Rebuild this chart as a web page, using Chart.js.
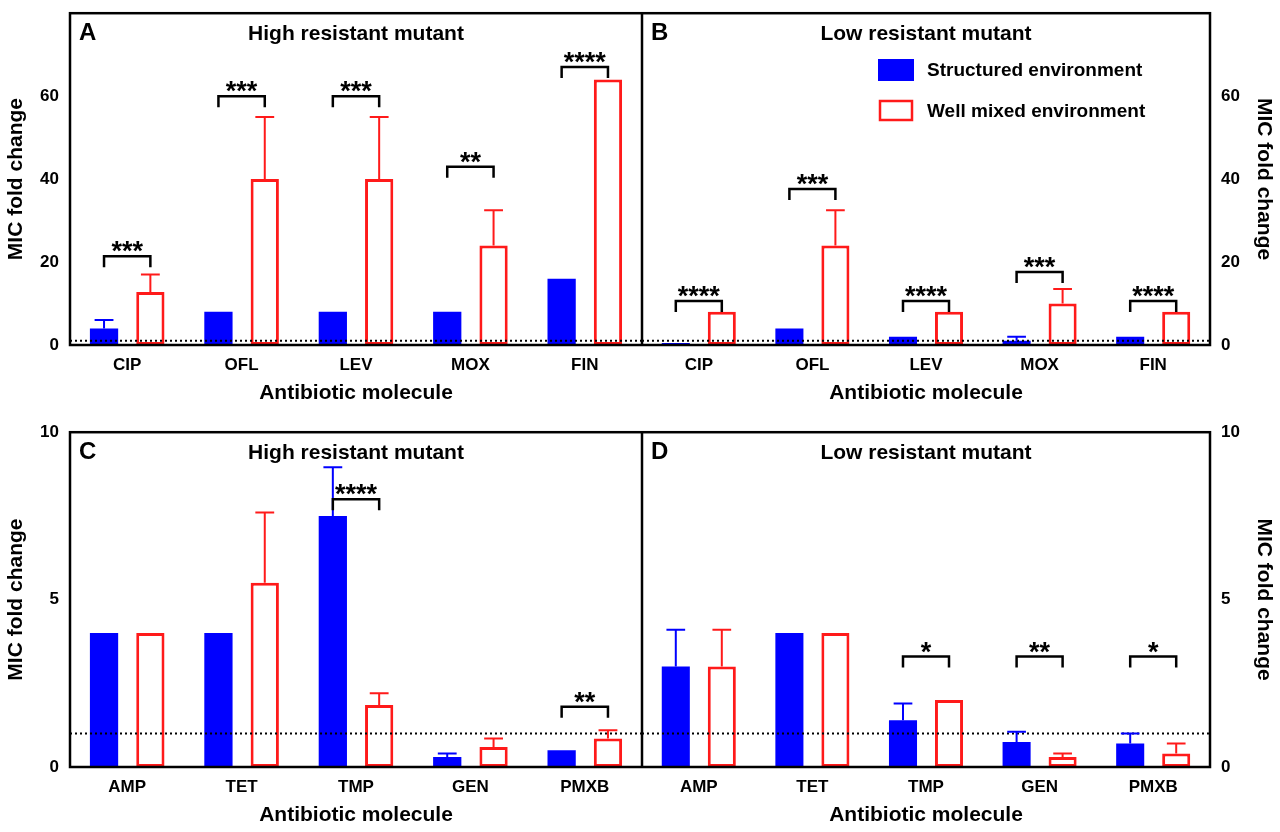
<!DOCTYPE html>
<html><head><meta charset="utf-8">
<script src="https://cdn.jsdelivr.net/npm/chart.js@4"></script>
<style>body{margin:0;background:#fff;width:1280px;height:832px;position:relative;overflow:hidden}
.c{position:absolute}</style></head><body>
<div class="c" style="left:0;top:0;width:642px;height:410px"><canvas id="A"></canvas></div>
<div class="c" style="left:642px;top:0;width:638px;height:410px"><canvas id="B"></canvas></div>
<div class="c" style="left:0;top:419px;width:642px;height:413px"><canvas id="C"></canvas></div>
<div class="c" style="left:642px;top:419px;width:638px;height:413px"><canvas id="D"></canvas></div>
<script>
const catsTop=['CIP','OFL','LEV','MOX','FIN'];
const catsBot=['AMP','TET','TMP','GEN','PMXB'];
const A_struct=[4,8,8,8,16], A_structErr=[6,null,null,null,null];
const A_mixed=[12.8,40,40,24,64], A_mixedErr=[17,55,55,32.5,null];
const A_brk=[21.4,60,60,43,67], A_sig=['***','***','***','**','****'];
const B_struct=[0.5,4,2,1,2], B_structErr=[null,null,null,2,null];
const B_mixed=[8,24,8,10,8], B_mixedErr=[null,32.5,null,13.5,null];
const B_brk=[10.6,37.6,10.6,17.6,10.6], B_sig=['****','***','****','***','****'];
const C_struct=[4,4,7.5,0.3,0.5], C_structErr=[null,null,8.95,0.4,null];
const C_mixed=[4,5.5,1.85,0.6,0.85], C_mixedErr=[null,7.6,2.2,0.85,1.1];
const C_brk=[null,null,8.0,null,1.8], C_sig=['','','****','','**'];
const D_struct=[3,4,1.4,0.75,0.7], D_structErr=[4.1,null,1.9,1.05,1.0];
const D_mixed=[3,4,2,0.3,0.4], D_mixedErr=[4.1,null,null,0.4,0.7];
const D_brk=[null,null,3.3,3.3,3.3], D_sig=['','','*','**','*'];
const F='"Liberation Sans", Arial, sans-serif';
const BLUE='#0000ff', RED='#ff1a1a';

function make(id,cats,s,sE,m,mE,brk,sig,opt){
  const plug={id:'p'+id,afterDatasetsDraw(ch){
    const c=ch.ctx,a=ch.chartArea,y=ch.scales.y;
    const m0=ch.getDatasetMeta(0).data,m1=ch.getDatasetMeta(1).data;
    c.save();
    c.strokeStyle='#000';c.lineWidth=2;c.setLineDash([2,3]);
    c.beginPath();c.moveTo(a.left,y.getPixelForValue(1));c.lineTo(a.right,y.getPixelForValue(1));c.stroke();
    c.setLineDash([]);
    function err(el,v,e,col){ if(e==null)return;
      const top=y.getPixelForValue(e),base=y.getPixelForValue(v),hw=el.width/3;
      c.strokeStyle=col;c.lineWidth=2;c.beginPath();c.moveTo(el.x,base);c.lineTo(el.x,top);
      c.moveTo(el.x-hw,top);c.lineTo(el.x+hw,top);c.stroke();}
    for(let i=0;i<cats.length;i++){
      err(m0[i],s[i],sE[i],BLUE);err(m1[i],m[i],mE[i],RED);
      if(brk[i]!=null){const by=y.getPixelForValue(brk[i]);
        c.strokeStyle='#000';c.lineWidth=2.5;c.beginPath();
        c.moveTo(m0[i].x,by+11);c.lineTo(m0[i].x,by);c.lineTo(m1[i].x,by);c.lineTo(m1[i].x,by+11);c.stroke();
        c.fillStyle='#000';c.font='bold 27px '+F;c.textAlign='center';c.textBaseline='alphabetic';
        const mt=c.measureText(sig[i]);
        c.fillText(sig[i],(m0[i].x+m1[i].x)/2,by-4-mt.actualBoundingBoxDescent);}
    }
    c.strokeStyle='#000';c.lineWidth=2.5;c.strokeRect(a.left,a.top,a.right-a.left,a.bottom-a.top);
    c.fillStyle='#000';c.textBaseline='middle';
    c.font='bold 24px '+F;c.textAlign='left';c.fillText(id,a.left+9,a.top+20);
    c.font='bold 21px '+F;c.textAlign='center';c.fillText(opt.title,(a.left+a.right)/2,a.top+21);
    if(opt.legend){c.font='bold 19px '+F;c.textAlign='left';
      c.fillStyle=BLUE;c.fillRect(236,59,36,22);c.fillStyle='#000';c.fillText('Structured environment',285,71);
      c.strokeStyle=RED;c.lineWidth=2.5;c.strokeRect(238,101,32,19);c.fillStyle='#000';c.fillText('Well mixed environment',285,112);}
    c.restore();}};
  new Chart(document.getElementById(id),{type:'bar',
    data:{labels:cats,datasets:[
      {data:s,backgroundColor:BLUE,borderWidth:0},
      {data:m,backgroundColor:'#fff',borderColor:RED,borderWidth:3,borderSkipped:false}]},
    options:{responsive:true,maintainAspectRatio:false,animation:false,
      layout:{padding:{top:opt.pt,left:0,right:0,bottom:0}},
      plugins:{legend:{display:false},tooltip:{enabled:false}},
      datasets:{bar:{categoryPercentage:0.81,barPercentage:0.61}},
      scales:{
        x:{grid:{display:false,drawTicks:true,tickLength:8,tickColor:'#000',lineWidth:2},border:{display:false},
          ticks:{color:'#000',font:{family:F,weight:'bold',size:17},padding:2},
          title:{display:true,text:'Antibiotic molecule',color:'#000',font:{family:F,weight:'bold',size:21},padding:{top:2}},
          afterFit:sc=>{sc.height=65}},
        y:{position:opt.pos,min:0,max:opt.max,
          ticks:{stepSize:opt.step,color:'#000',font:{family:F,weight:'bold',size:17},
            callback:v=>(v<=opt.maxLab&&Math.abs(v/opt.lab-Math.round(v/opt.lab))<1e-6?v:'')},
          grid:{display:false,drawTicks:true,tickLength:8,tickColor:'#000',lineWidth:2},border:{display:false},
          title:{display:true,text:'MIC fold change',color:'#000',font:{family:F,weight:'bold',size:21}},
          afterFit:sc=>{sc.width=70}}}},
    plugins:[plug]});
}
make('A',catsTop,A_struct,A_structErr,A_mixed,A_mixedErr,A_brk,A_sig,{title:'High resistant mutant',pos:'left',max:80,step:10,lab:20,maxLab:60,pt:2});
make('B',catsTop,B_struct,B_structErr,B_mixed,B_mixedErr,B_brk,B_sig,{title:'Low resistant mutant',pos:'right',max:80,step:10,lab:20,maxLab:60,pt:2,legend:true});
make('C',catsBot,C_struct,C_structErr,C_mixed,C_mixedErr,C_brk,C_sig,{title:'High resistant mutant',pos:'left',max:10,step:2.5,lab:5,maxLab:10,pt:8});
make('D',catsBot,D_struct,D_structErr,D_mixed,D_mixedErr,D_brk,D_sig,{title:'Low resistant mutant',pos:'right',max:10,step:2.5,lab:5,maxLab:10,pt:8});
</script></body></html>
